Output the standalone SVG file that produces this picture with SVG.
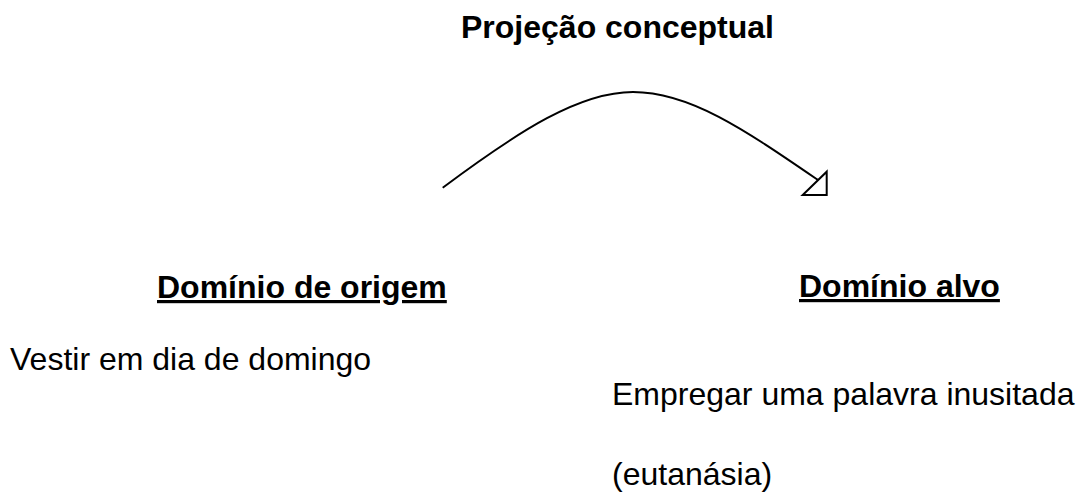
<svg xmlns="http://www.w3.org/2000/svg" width="1076" height="492" viewBox="0 0 1076 492">
<style>
text{font-family:"Liberation Sans",Arial,sans-serif;font-size:32px;fill:#000}
.b{font-weight:bold}
.u{text-decoration:underline}
.conn{fill:none;stroke:#000;stroke-width:2}
.head{fill:#fff;stroke:#000;stroke-width:2;stroke-linejoin:miter}
</style>
<rect width="1076" height="492" fill="#fff"/>
<g id="connectors">
<path class="conn" d="M442.7,187.7 C520,130 580,92 633,92 C690,92 745,130 818,180"/>
<polygon class="head" points="802.7,195 826.7,195 826.7,171.7"/>
</g>
<g id="title"><text class="b" x="461" y="38" font-size="31.5">Projeção conceptual</text></g>
<g id="origem">
<text class="b u" x="157" y="298">Domínio de origem</text>
<text x="10" y="370" font-size="31.5">Vestir em dia de domingo</text>
</g>
<g id="alvo">
<text class="b u" x="799" y="297">Domínio alvo</text>
<text x="612" y="405">Empregar uma palavra inusitada</text>
<text x="612" y="485">(eutanásia)</text>
</g>
</svg>
